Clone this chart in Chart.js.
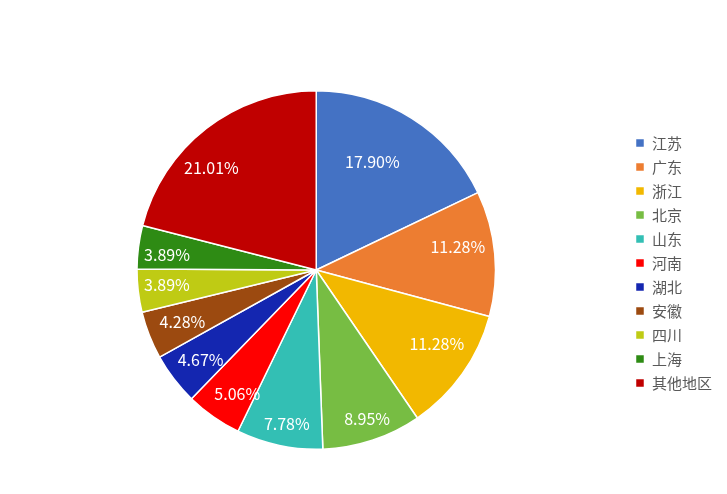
<!DOCTYPE html>
<html>
<head>
<meta charset="utf-8">
<script src="https://cdn.jsdelivr.net/npm/chart.js@4/dist/chart.umd.min.js"></script>
<style>
  html, body { margin: 0; padding: 0; background: #fff; }
  #wrap { width: 727px; height: 494px; position: relative; }
</style>
</head>
<body>
<div id="wrap"><canvas id="c" width="727" height="494"></canvas></div>
<script>
// Regional share (%)
const regions = ['江苏', '广东', '浙江', '北京', '山东', '河南', '湖北', '安徽', '四川', '上海', '其他地区'];
const shares = [17.90, 11.28, 11.28, 8.95, 7.78, 5.06, 4.67, 4.28, 3.89, 3.89, 21.01];
const sliceColors = ['#4472C4', '#ED7D31', '#F2B800', '#77BD43', '#33BFB4', '#FF0000',
                     '#1426B0', '#9C4A10', '#BFCB14', '#2E8B14', '#C00000'];

// Value label placement: fraction of the outer radius, and a small turn (degrees) off the slice's mid-angle
const labelRadius = [0.68, 0.80, 0.79, 0.88, 0.877, 0.82, 0.816, 0.80, 0.837, 0.837, 0.817];
const labelTurn = [-4.8, -3.9, -3.7, -0.6, -1.1, -2.5, -0.3, 0.3, 1.0, -1.6, -7.9];

const FONT = "'Segoe UI', 'Microsoft YaHei', 'Noto Sans CJK SC', sans-serif";

const valueLabels = {
  id: 'valueLabels',
  afterDatasetsDraw(chart) {
    const ctx = chart.ctx;
    const meta = chart.getDatasetMeta(0);
    ctx.save();
    ctx.font = '16px ' + FONT;
    ctx.fillStyle = '#ffffff';
    ctx.textAlign = 'center';
    ctx.textBaseline = 'middle';
    meta.data.forEach((arc, i) => {
      const p = arc.getProps(['x', 'y', 'startAngle', 'endAngle', 'outerRadius'], true);
      const mid = (p.startAngle + p.endAngle) / 2 + labelTurn[i] * Math.PI / 180;
      const r = p.outerRadius * labelRadius[i];
      ctx.fillText(shares[i].toFixed(2) + '%', p.x + Math.cos(mid) * r, p.y + Math.sin(mid) * r);
    });
    ctx.restore();
  }
};

// Lift the legend column slightly above the pie's centre line
const legendLift = {
  id: 'legendLift',
  afterLayout(chart) {
    const lg = chart.legend;
    if (lg) { lg.top -= 7; lg.bottom -= 7; }
  }
};

new Chart(document.getElementById('c'), {
  type: 'pie',
  data: {
    labels: regions,
    datasets: [{
      data: shares,
      backgroundColor: sliceColors,
      borderColor: '#ffffff',
      borderWidth: 1.5
    }]
  },
  options: {
    responsive: false,
    animation: false,
    layout: { padding: { top: 90, bottom: 44, left: 6, right: 5 } },
    plugins: {
      legend: {
        position: 'right',
        align: 'center',
        labels: {
          boxWidth: 9,
          boxHeight: 9,
          padding: 9,
          color: '#595959',
          font: { size: 15, family: FONT }
        }
      },
      tooltip: { enabled: false }
    }
  },
  plugins: [valueLabels, legendLift]
});
</script>
</body>
</html>
